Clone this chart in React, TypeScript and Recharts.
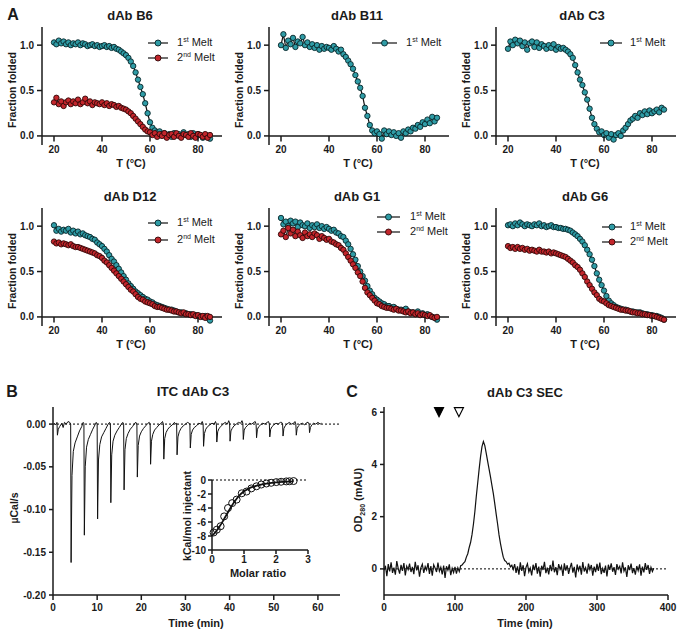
import React from 'react';
import { ComposedChart, Line, Scatter, XAxis, YAxis, ReferenceLine } from 'recharts';

const FONT = '"Liberation Sans", Arial, Helvetica, sans-serif';
const INK = '#1a1a1a';
const TEAL = '#2f9ca6';
const TEAL_EDGE = '#082528';
const RED = '#c3262c';
const RED_EDGE = '#300808';

// ---------- Panel A: thermal melts (fraction folded vs T) ----------
const temps = [
  20, 21, 22, 23, 24, 25, 26, 27, 28, 29,
  30, 31, 32, 33, 34, 35, 36, 37, 38, 39,
  40, 41, 42, 43, 44, 45, 46, 47, 48, 49,
  50, 51, 52, 53, 54, 55, 56, 57, 58, 59,
  60, 61, 62, 63, 64, 65, 66, 67, 68, 69,
  70, 71, 72, 73, 74, 75, 76, 77, 78, 79,
  80, 81, 82, 83, 84, 85,
];

const b6First = [
  1.03, 1.01, 1.05, 1.02, 1.04, 1.01, 1.03, 1.0, 1.02, 1.01,
  1.03, 1.0, 1.02, 1.01, 0.99, 1.0, 1.01, 0.99, 1.0, 0.98,
  0.99, 1.0, 0.98, 0.99, 0.97, 0.98, 0.96, 0.95, 0.93, 0.91,
  0.89, 0.86, 0.82, 0.77, 0.7, 0.62, 0.54, 0.46, 0.36, 0.25,
  0.15, 0.09, 0.06, 0.04, 0.05, 0.02, 0.03, 0.01, 0.02, -0.01,
  0.03, 0.01, 0.02, 0.0, 0.04, 0.01, 0.02, -0.01, 0.03, 0.0,
  0.02, 0.01, -0.02, 0.01, 0.0, -0.03,
];
const b6Second = [
  0.37, 0.42, 0.35, 0.38, 0.33, 0.37, 0.39, 0.35, 0.38, 0.36,
  0.4, 0.35, 0.37, 0.41, 0.36, 0.38, 0.34, 0.37, 0.36, 0.35,
  0.37, 0.34, 0.36, 0.33, 0.35, 0.34, 0.32, 0.33, 0.31, 0.3,
  0.29, 0.27, 0.25, 0.22, 0.19, 0.16, 0.13, 0.1, 0.07, 0.05,
  0.04, 0.01, 0.03, -0.01, 0.02, 0.0, 0.03, -0.02, 0.01, 0.02,
  -0.01, 0.03, 0.0, -0.02, 0.02, 0.01, -0.01, 0.03, 0.0, -0.02,
  0.02, 0.01, -0.01, 0.02, -0.02, 0.01,
];
const b11First = [
  1.0, 1.12, 0.97, 1.05, 1.01, 1.08, 0.98, 1.04, 1.02, 1.09,
  1.0, 1.03, 0.98, 1.01, 0.97, 1.0, 0.95, 0.99, 0.96, 0.98,
  0.97, 0.95, 0.99, 0.96, 0.93, 0.95, 0.9, 0.87, 0.83, 0.79,
  0.74, 0.67, 0.6, 0.53, 0.44, 0.31, 0.22, 0.12, 0.06, 0.03,
  0.05, 0.02, -0.03, 0.06, 0.02, 0.05, 0.01, 0.04, 0.0, 0.03,
  -0.02, 0.05, 0.03, 0.07, 0.05, 0.09, 0.08, 0.12, 0.1, 0.15,
  0.13, 0.18, 0.14, 0.21, 0.16, 0.2,
];
const c3First = [
  0.96, 1.04, 1.0, 1.06, 1.02, 1.05, 0.99, 1.03, 0.95, 1.02,
  1.04, 0.98, 1.03, 0.97, 1.01, 0.99, 0.96, 1.0, 0.97, 1.01,
  0.95, 0.98, 0.96, 0.97, 0.95, 0.93, 0.9, 0.86, 0.78, 0.7,
  0.62, 0.56, 0.48, 0.4, 0.3, 0.2, 0.13, 0.08, 0.04, 0.05,
  0.01, 0.03, -0.02, 0.02, -0.04, 0.01, 0.03, 0.0, 0.06, 0.09,
  0.13, 0.17, 0.19, 0.22, 0.2, 0.25, 0.23, 0.27, 0.24, 0.28,
  0.25, 0.27, 0.29, 0.26, 0.31, 0.29,
];
const d12First = [
  1.01, 0.95, 0.97, 0.94, 0.96, 0.95, 0.97, 0.93, 0.95, 0.92,
  0.94, 0.91, 0.92, 0.9, 0.89, 0.88, 0.86, 0.85, 0.82, 0.8,
  0.78, 0.75, 0.72, 0.68, 0.64, 0.61, 0.57, 0.53, 0.49, 0.45,
  0.41, 0.37, 0.34, 0.31, 0.28, 0.26, 0.24, 0.22, 0.2, 0.19,
  0.17, 0.16, 0.14, 0.13, 0.12, 0.11, 0.1, 0.09, 0.08, 0.08,
  0.07, 0.06, 0.05, 0.05, 0.04, 0.04, 0.03, 0.03, 0.02, 0.02,
  0.01, 0.01, 0.0, 0.01, -0.01, -0.04,
];
const d12Second = [
  0.83, 0.81, 0.82, 0.8, 0.81, 0.8, 0.79, 0.8, 0.78, 0.77,
  0.77, 0.76, 0.75, 0.74, 0.73, 0.72, 0.71, 0.7, 0.68, 0.67,
  0.65, 0.62, 0.6, 0.57, 0.54, 0.51, 0.48, 0.45, 0.42, 0.39,
  0.36, 0.33, 0.3, 0.28, 0.25, 0.22, 0.2, 0.19, 0.17, 0.16,
  0.15, 0.14, 0.12, 0.11, 0.11, 0.1, 0.09, 0.08, 0.08, 0.07,
  0.06, 0.06, 0.05, 0.04, 0.05, 0.03, 0.03, 0.02, 0.03, 0.01,
  0.02, 0.0, 0.01, -0.01, 0.01, 0.0,
];
const g1First = [
  1.09, 1.02, 1.05, 1.0, 1.06, 1.03, 1.05, 0.99, 1.04, 1.01,
  1.0, 1.03, 0.98, 1.01, 0.99, 1.02, 0.98, 1.0, 0.97, 0.99,
  0.97, 0.95, 0.96, 0.93, 0.92, 0.89, 0.88, 0.84, 0.8, 0.75,
  0.69, 0.63, 0.56, 0.5, 0.45, 0.4, 0.34, 0.29, 0.25, 0.21,
  0.19, 0.17, 0.15, 0.14, 0.12, 0.12, 0.1, 0.11, 0.09, 0.08,
  0.08, 0.07, 0.09, 0.06, 0.05, 0.05, 0.04, 0.06, 0.03, 0.04,
  0.02, 0.03, 0.01, 0.0, -0.01, -0.03,
];
const g1Second = [
  0.91, 0.95, 0.88, 0.98, 0.92, 0.96, 0.89, 0.94, 0.9, 0.87,
  0.93, 0.89, 0.91, 0.88, 0.92, 0.9, 0.86, 0.89, 0.87, 0.85,
  0.86, 0.83, 0.82, 0.8, 0.79, 0.76, 0.74, 0.7, 0.66, 0.62,
  0.58, 0.54, 0.49, 0.45, 0.39, 0.32, 0.27, 0.24, 0.21, 0.18,
  0.15, 0.14, 0.12, 0.11, 0.1, 0.1, 0.09, 0.08, 0.09, 0.07,
  0.07, 0.06, 0.05, 0.06, 0.04, 0.05, 0.03, 0.04, 0.02, 0.03,
  0.02, 0.01, 0.02, 0.0, -0.01, 0.0,
];
const g6First = [
  1.01, 1.02, 1.0, 1.03, 1.01, 1.04, 1.02, 1.0, 1.02, 1.01,
  1.0, 1.02, 1.01, 1.03, 1.0, 1.01, 0.99, 1.0, 1.01, 0.99,
  0.99, 0.98, 0.98, 0.97, 0.97, 0.96, 0.95, 0.93, 0.91, 0.89,
  0.86, 0.83, 0.79, 0.74, 0.69, 0.63, 0.56, 0.48, 0.41, 0.35,
  0.29, 0.23, 0.18, 0.15, 0.13, 0.11, 0.1, 0.09, 0.08, 0.08,
  0.07, 0.06, 0.06, 0.05, 0.05, 0.05, 0.04, 0.03, 0.03, 0.02,
  0.02, 0.01, 0.01, 0.0, -0.01, -0.03,
];
const g6Second = [
  0.78, 0.76, 0.77, 0.75, 0.77, 0.75, 0.76, 0.74, 0.75, 0.73,
  0.74, 0.73, 0.72, 0.74, 0.72, 0.72, 0.71, 0.72, 0.7, 0.71,
  0.7, 0.69, 0.68, 0.67, 0.66, 0.64, 0.62, 0.6, 0.57, 0.55,
  0.52, 0.48, 0.44, 0.39, 0.35, 0.31, 0.27, 0.24, 0.2, 0.18,
  0.17, 0.15, 0.13, 0.12, 0.11, 0.1, 0.09, 0.08, 0.08, 0.07,
  0.07, 0.06, 0.05, 0.05, 0.04, 0.04, 0.03, 0.03, 0.02, 0.02,
  0.01, 0.01, 0.0, -0.01, -0.02, -0.03,
];
const meltTicksX = [20, 40, 60, 80];
const meltTicksY = [0, 0.5, 1];

// ---------- Panel B: ITC thermogram [time (min), µcal/s] ----------
const itcTrace: [number, number][] = [
  [0.3, 0.001], [0.6, -0.001], [0.9, 0.002], [1.0, -0.013], [1.2, -0.006], [1.5, -0.003], [2.0, 0.001], [2.3, -0.004], [2.6, 0.002], [3.0, 0.0], [3.4, 0.003], [3.8, 0.002],
  [4.0, 0.0], [4.1, -0.162], [4.3, -0.06], [4.6, -0.032], [5.0, -0.022], [5.5, -0.015], [6.0, -0.008], [6.5, -0.003], [6.8, 0.002],
  [7.0, 0.001], [7.1, -0.13], [7.3, -0.05], [7.6, -0.027], [8.0, -0.018], [8.5, -0.012], [9.0, -0.006], [9.5, -0.001], [9.8, 0.002],
  [10.0, 0.0], [10.1, -0.111], [10.3, -0.042], [10.6, -0.024], [11.0, -0.015], [11.5, -0.01], [12.0, -0.005], [12.5, 0.0], [12.8, 0.002],
  [13.0, 0.0], [13.1, -0.092], [13.3, -0.036], [13.6, -0.02], [14.0, -0.013], [14.5, -0.008], [15.0, -0.004], [15.5, 0.0], [15.8, 0.002],
  [16.0, 0.0], [16.1, -0.077], [16.3, -0.03], [16.6, -0.017], [17.0, -0.011], [17.5, -0.006], [18.0, -0.003], [18.5, 0.001], [18.8, 0.002],
  [19.0, -0.001], [19.1, -0.062], [19.3, -0.025], [19.6, -0.014], [20.0, -0.009], [20.5, -0.005], [21.0, -0.002], [21.5, 0.001], [21.8, 0.002],
  [22.0, 0.0], [22.1, -0.047], [22.3, -0.02], [22.6, -0.012], [23.0, -0.007], [23.5, -0.004], [24.0, -0.001], [24.5, 0.001], [24.8, 0.003],
  [25.0, 0.0], [25.1, -0.041], [25.3, -0.017], [25.6, -0.01], [26.0, -0.006], [26.5, -0.003], [27.0, -0.001], [27.5, 0.002], [27.8, 0.0],
  [28.0, 0.001], [28.1, -0.036], [28.3, -0.015], [28.6, -0.009], [29.0, -0.005], [29.5, -0.002], [30.0, 0.0], [30.5, 0.002], [30.8, 0.001],
  [31.0, 0.0], [31.1, -0.028], [31.3, -0.012], [31.6, -0.007], [32.0, -0.004], [32.5, -0.002], [33.0, 0.001], [33.5, 0.0], [33.8, 0.003],
  [34.0, 0.0], [34.1, -0.026], [34.3, -0.011], [34.6, -0.006], [35.0, -0.003], [35.5, -0.001], [36.0, 0.001], [36.5, 0.0], [36.8, 0.003],
  [37.0, 0.0], [37.1, -0.021], [37.3, -0.009], [37.6, -0.005], [38.0, -0.003], [38.5, 0.0], [39.0, 0.002], [39.5, 0.0], [39.8, 0.004],
  [40.0, 0.001], [40.1, -0.02], [40.3, -0.008], [40.6, -0.005], [41.0, -0.002], [41.5, 0.0], [42.0, 0.002], [42.5, 0.001], [42.8, 0.004],
  [43.0, 0.001], [43.1, -0.018], [43.3, -0.007], [43.6, -0.004], [44.0, -0.002], [44.5, 0.001], [45.0, 0.0], [45.5, 0.002], [45.8, 0.003],
  [46.0, 0.0], [46.1, -0.016], [46.3, -0.006], [46.6, -0.003], [47.0, -0.001], [47.5, 0.001], [48.0, 0.0], [48.5, 0.002], [48.8, 0.003],
  [49.0, 0.0], [49.1, -0.015], [49.3, -0.006], [49.6, -0.003], [50.0, -0.001], [50.5, 0.001], [51.0, 0.0], [51.5, 0.002], [51.8, 0.002],
  [52.0, 0.0], [52.1, -0.014], [52.3, -0.005], [52.6, -0.002], [53.0, 0.0], [53.5, 0.002], [54.0, 0.0], [54.5, 0.001], [54.8, 0.003],
  [55.0, 0.0], [55.1, -0.013], [55.3, -0.005], [55.6, -0.002], [56.0, 0.0], [56.5, 0.001], [57.0, -0.001], [57.5, 0.002], [57.8, 0.002],
  [58.0, 0.0], [58.1, -0.01], [58.3, -0.004], [58.6, -0.001], [59.0, 0.001], [59.5, 0.0], [60.0, 0.002], [60.5, 0.0], [60.8, 0.001],
];
const itcTicksX = [0, 10, 20, 30, 40, 50, 60];
const itcTicksY = [0, -0.05, -0.1, -0.15, -0.2];

// Inset: integrated heats
const molarRatio = [0.05, 0.15, 0.27, 0.38, 0.5, 0.63, 0.77, 0.93, 1.08, 1.23, 1.39, 1.54, 1.7, 1.85, 2.01, 2.16, 2.32, 2.42, 2.55];
const injHeat = [-7.5, -7.1, -6.6, -5.2, -4.0, -3.3, -2.8, -1.9, -1.65, -1.2, -0.9, -0.65, -0.5, -0.4, -0.3, -0.25, -0.2, -0.18, -0.15];
const fitRatio = [0, 0.1, 0.2, 0.3, 0.4, 0.5, 0.6, 0.7, 0.8, 0.9, 1.0, 1.2, 1.4, 1.6, 1.8, 2.0, 2.2, 2.4, 2.55];
const fitHeat = [-8.0, -7.5, -6.9, -6.2, -5.4, -4.6, -3.8, -3.1, -2.5, -2.0, -1.6, -1.1, -0.8, -0.58, -0.44, -0.34, -0.27, -0.22, -0.19];
const insetTicksX = [0, 1, 2, 3];
const insetTicksY = [0, -2, -4, -6, -8, -10];

// ---------- Panel C: SEC trace ----------
const secTime = [
  0, 2, 4, 6, 8, 10, 12, 14, 16, 18,
  20, 22, 24, 26, 28, 30, 32, 34, 36, 38,
  40, 42, 44, 46, 48, 50, 52, 54, 56, 58,
  60, 62, 64, 66, 68, 70, 72, 74, 76, 78,
  80, 82, 84, 86, 88, 90, 92, 94, 96, 98,
  100, 102, 104, 106, 108, 110, 112, 114, 116, 118,
  120, 122, 124, 126, 128, 130, 132, 134, 136, 138,
  140, 142, 144, 146, 148, 150, 152, 154, 156, 158,
  160, 162, 164, 166, 168, 170, 172, 174, 176, 178,
  180, 182, 184, 186, 188, 190, 192, 194, 196, 198,
  200, 202, 204, 206, 208, 210, 212, 214, 216, 218,
  220, 222, 224, 226, 228, 230, 232, 234, 236, 238,
  240, 242, 244, 246, 248, 250, 252, 254, 256, 258,
  260, 262, 264, 266, 268, 270, 272, 274, 276, 278,
  280, 282, 284, 286, 288, 290, 292, 294, 296, 298,
  300, 302, 304, 306, 308, 310, 312, 314, 316, 318,
  320, 322, 324, 326, 328, 330, 332, 334, 336, 338,
  340, 342, 344, 346, 348, 350, 352, 354, 356, 358,
  360, 362, 364, 366, 368, 370, 372, 374, 376, 378,
  380,
];
const secOD = [
  -0.05, 0.12, -0.28, 0.18, -0.1, 0.25, -0.15, 0.05, -0.22, 0.3,
  0.02, -0.18, 0.15, -0.08, 0.22, -0.25, 0.1, -0.03, 0.2, -0.12,
  0.08, -0.2, 0.27, -0.06, 0.14, -0.3, 0.05, 0.18, -0.15, 0.09,
  -0.04, 0.22, -0.19, 0.11, -0.26, 0.16, 0.03, -0.12, 0.24, -0.09,
  0.06, -0.21, 0.13, -0.35, 0.1, -0.05, 0.17, -0.24, 0.02, -0.14,
  0.08, -0.18, 0.04, -0.1, 0.12, 0.15, 0.22, 0.28, 0.45, 0.58,
  0.82, 1.02, 1.32, 1.72, 2.2, 2.78, 3.3, 3.82, 4.3, 4.68,
  4.88, 4.72, 4.42, 4.12, 3.82, 3.52, 3.2, 2.88, 2.5, 2.1,
  1.72, 1.3, 0.98, 0.7, 0.45, 0.32, 0.28, 0.18, 0.22, 0.08,
  0.14, -0.02, 0.18, -0.15, 0.1, -0.22, 0.25, -0.08, 0.14, -0.28,
  0.06, 0.2, -0.12, 0.03, -0.25, 0.16, -0.05, 0.22, -0.18, 0.09,
  -0.3, 0.12, -0.04, 0.27, -0.16, 0.05, -0.21, 0.15, -0.09, 0.32,
  -0.13, 0.07, -0.24, 0.18, -0.02, 0.11, -0.27, 0.21, -0.07, 0.14,
  -0.19, 0.04, 0.23, -0.14, 0.08, -0.33, 0.17, -0.06, 0.12, -0.22,
  0.26, -0.1, 0.05, -0.18, 0.2, -0.03, 0.15, -0.26, 0.09, -0.12,
  0.19, -0.08, 0.24, -0.2, 0.02, -0.15, 0.13, -0.29, 0.16, -0.04,
  0.21, -0.11, 0.07, -0.23, 0.18, -0.01, 0.1, -0.17, 0.25, -0.09,
  0.06, -0.31, 0.14, -0.05, 0.2, -0.16, 0.03, -0.22, 0.11, -0.07,
  0.17, -0.26, 0.09, -0.13, 0.22, -0.04, 0.15, -0.19, 0.06, -0.1,
  0.02,
];
const secMarkerFilled = [{ t: 77.5, v: 6 }];
const secMarkerOpen = [{ t: 105.5, v: 6 }];
const secTicksX = [0, 100, 200, 300, 400];
const secTicksY = [0, 2, 4, 6];

// ---------- helpers ----------
const axisStyle = { stroke: INK, strokeWidth: 1.5 };
const tickFont = { fontSize: 10, fontWeight: 'bold', fill: INK, fontFamily: FONT } as any;

function Txt({ x, y, children, size = 11, weight = 700, rotate = false }: any) {
  return (
    <div
      style={{
        position: 'absolute',
        left: x,
        top: y,
        transform: `translate(-50%, -50%)${rotate ? ' rotate(-90deg)' : ''}`,
        fontFamily: FONT,
        fontSize: size,
        fontWeight: weight,
        color: INK,
        whiteSpace: 'nowrap',
        lineHeight: 1,
      }}
    >
      {children}
    </div>
  );
}

function LegendItem({ x, y, w, gap, fill, edge, ord }: any) {
  return (
    <div
      style={{
        position: 'absolute',
        left: x,
        top: y - 7,
        height: 14,
        display: 'flex',
        alignItems: 'center',
        fontFamily: FONT,
        fontSize: 11,
        color: INK,
        whiteSpace: 'nowrap',
        lineHeight: '14px',
      }}
    >
      <svg width={w} height={10} style={{ display: 'block' }}>
        <line x1={0} y1={5} x2={w} y2={5} stroke="#111" strokeWidth={1.2} />
        <circle cx={w / 2} cy={5} r={3} fill={fill} stroke={edge} strokeWidth={0.9} />
      </svg>
      <span style={{ marginLeft: gap }}>
        {ord[0]}
        <span style={{ fontSize: 7, position: 'relative', top: -4 }}>{ord.slice(1)}</span> Melt
      </span>
    </div>
  );
}

const MeltXTick = (props: any) => {
  const { x, y, payload } = props;
  return (
    <g>
      <line x1={x} x2={x} y1={y - 9} y2={y - 3.5} stroke={INK} strokeWidth={1.5} />
      <text x={x} y={y + 7.5} textAnchor="middle" fontSize={10} fontWeight="bold" fill={INK} fontFamily={FONT}>
        {payload.value}
      </text>
    </g>
  );
};

function MeltChart({ left, top, first, second }: any) {
  const d1 = temps.map((t, i) => ({ t, y: first[i] }));
  const d2 = second ? temps.map((t, i) => ({ t, y: second[i] })) : null;
  return (
    <div style={{ position: 'absolute', left, top }}>
      <ComposedChart width={230} height={165} margin={{ top: 27, right: 8, bottom: 0, left: 0 }}>
        <XAxis
          type="number"
          dataKey="t"
          domain={[15, 90]}
          ticks={meltTicksX}
          interval={0}
          height={20}
          axisLine={false}
          tickLine={false}
          tickSize={0}
          tickMargin={0}
          tick={(p: any) => <MeltXTick {...p} />}
        />
        <YAxis
          type="number"
          dataKey="y"
          domain={[-0.1, 1.2]}
          ticks={meltTicksY}
          interval={0}
          width={42}
          tickFormatter={(v: number) => v.toFixed(1)}
          axisLine={axisStyle}
          tickLine={axisStyle}
          tickSize={5}
          tickMargin={3}
          tick={tickFont}
        />
        <ReferenceLine y={0} stroke={INK} strokeWidth={1.5} />
        <Line
          data={d1}
          dataKey="y"
          stroke="#111"
          strokeWidth={1.2}
          dot={{ r: 2.7, fill: TEAL, stroke: TEAL_EDGE, strokeWidth: 0.9 }}
          activeDot={false}
          isAnimationActive={false}
        />
        {d2 && (
          <Line
            data={d2}
            dataKey="y"
            stroke="#111"
            strokeWidth={1.2}
            dot={{ r: 2.7, fill: RED, stroke: RED_EDGE, strokeWidth: 0.9 }}
            activeDot={false}
            isAnimationActive={false}
          />
        )}
      </ComposedChart>
    </div>
  );
}

const TriShape = (filled: boolean) => (p: any) => {
  const { cx, cy } = p;
  return (
    <path
      d={`M${cx - 4.5},${cy - 4.5} L${cx + 4.5},${cy - 4.5} L${cx},${cy + 4.5} Z`}
      fill={filled ? '#000' : '#fff'}
      stroke="#000"
      strokeWidth={1.2}
    />
  );
};

export default function App() {
  const itcData = itcTrace.map(([t, v]) => ({ t, v }));
  const insetPts = molarRatio.map((x, i) => ({ x, y: injHeat[i] }));
  const insetFit = fitRatio.map((x, i) => ({ x, y: fitHeat[i] }));
  const secData = secTime.map((t, i) => ({ t, v: secOD[i] }));

  const meltPanels = [
    { left: 0, top: 0, first: b6First, second: b6Second, title: 'dAb B6', tx: 130 },
    { left: 227, top: 0, first: b11First, second: null, title: 'dAb B11', tx: 357 },
    { left: 454, top: 0, first: c3First, second: null, title: 'dAb C3', tx: 582 },
    { left: 0, top: 181, first: d12First, second: d12Second, title: 'dAb D12', tx: 130 },
    { left: 227, top: 181, first: g1First, second: g1Second, title: 'dAb G1', tx: 357 },
    { left: 454, top: 181, first: g6First, second: g6Second, title: 'dAb G6', tx: 585 },
  ];

  const legends = [
    { x: 148, y: 43, w: 20, gap: 9, s: 'first' },
    { x: 148, y: 58, w: 20, gap: 9, s: 'second' },
    { x: 372, y: 43, w: 25, gap: 9, s: 'first' },
    { x: 600, y: 43, w: 22, gap: 8, s: 'first' },
    { x: 148, y: 223, w: 20, gap: 9, s: 'first' },
    { x: 148, y: 240, w: 20, gap: 9, s: 'second' },
    { x: 377, y: 217, w: 23, gap: 10, s: 'first' },
    { x: 377, y: 232, w: 23, gap: 10, s: 'second' },
    { x: 602, y: 227, w: 20, gap: 8, s: 'first' },
    { x: 602, y: 242, w: 20, gap: 8, s: 'second' },
  ];

  return (
    <div style={{ position: 'absolute', left: 0, top: 0, width: 683, height: 635, background: '#fff', overflow: 'hidden' }}>
      {meltPanels.map((p, i) => (
        <React.Fragment key={i}>
          <MeltChart left={p.left} top={p.top} first={p.first} second={p.second} />
          <Txt x={p.tx} y={p.top + 15} size={13}>{p.title}</Txt>
          <Txt x={p.left + 12} y={p.top + 90} size={10.5} rotate>Fraction folded</Txt>
          <Txt x={p.left + 131} y={p.top + 163} size={11}>T (°C)</Txt>
        </React.Fragment>
      ))}
      {legends.map((l, i) => (
        <LegendItem
          key={i}
          x={l.x}
          y={l.y}
          w={l.w}
          gap={l.gap}
          fill={l.s === 'first' ? TEAL : RED}
          edge={l.s === 'first' ? TEAL_EDGE : RED_EDGE}
          ord={l.s === 'first' ? '1st' : '2nd'}
        />
      ))}
      <Txt x={13} y={15} size={16}>A</Txt>

      {/* Panel B: ITC */}
      <div style={{ position: 'absolute', left: 0, top: 380 }}>
        <ComposedChart width={345} height={240} margin={{ top: 27, right: 5, bottom: 0, left: 0 }}>
          <XAxis
            type="number"
            dataKey="t"
            domain={[0, 65]}
            ticks={itcTicksX}
            interval={0}
            height={25}
            axisLine={axisStyle}
            tickLine={axisStyle}
            tickSize={5}
            tickMargin={4}
            tick={tickFont}
          />
          <YAxis
            type="number"
            dataKey="v"
            domain={[-0.2, 0.02]}
            ticks={itcTicksY}
            interval={0}
            width={53}
            tickFormatter={(v: number) => v.toFixed(2)}
            axisLine={axisStyle}
            tickLine={axisStyle}
            tickSize={4}
            tickMargin={3}
            tick={tickFont}
          />
          <ReferenceLine y={0} stroke="#000" strokeWidth={1} strokeDasharray="2 2" />
          <Line data={itcData} dataKey="v" stroke="#111" strokeWidth={1} dot={false} activeDot={false} isAnimationActive={false} />
        </ComposedChart>
      </div>
      <div style={{ position: 'absolute', left: 160, top: 470 }}>
        <ComposedChart width={158} height={100} margin={{ top: 10, right: 10, bottom: 0, left: 0 }}>
          <XAxis
            type="number"
            dataKey="x"
            domain={[0, 3]}
            ticks={insetTicksX}
            interval={0}
            height={20}
            axisLine={axisStyle}
            tickLine={axisStyle}
            tickSize={4}
            tickMargin={2}
            tick={tickFont}
          />
          <YAxis
            type="number"
            dataKey="y"
            domain={[-10, 0]}
            ticks={insetTicksY}
            interval={0}
            width={52}
            axisLine={axisStyle}
            tickLine={axisStyle}
            tickSize={4}
            tickMargin={2}
            tick={tickFont}
          />
          <ReferenceLine y={0} stroke="#000" strokeWidth={1} strokeDasharray="2 2" />
          <Line data={insetFit} dataKey="y" stroke="#111" strokeWidth={1.8} dot={false} activeDot={false} isAnimationActive={false} />
          <Scatter
            data={insetPts}
            dataKey="y"
            isAnimationActive={false}
            shape={(p: any) => <circle cx={p.cx} cy={p.cy} r={3.5} fill="none" stroke="#111" strokeWidth={1} />}
          />
        </ComposedChart>
      </div>
      <Txt x={12} y={392} size={16}>B</Txt>
      <Txt x={193} y={392} size={13.5}>ITC dAb C3</Txt>
      <Txt x={14} y={508} size={10.5} rotate>µCal/s</Txt>
      <Txt x={196} y={623} size={11}>Time (min)</Txt>
      <Txt x={187} y={516} size={10.5} rotate>kCal/mol injectant</Txt>
      <Txt x={258} y={573} size={11}>Molar ratio</Txt>

      {/* Panel C: SEC */}
      <div style={{ position: 'absolute', left: 340, top: 380 }}>
        <ComposedChart width={338} height={240} margin={{ top: 27, right: 10, bottom: 0, left: 0 }}>
          <XAxis
            type="number"
            dataKey="t"
            domain={[0, 400]}
            ticks={secTicksX}
            interval={0}
            height={25}
            axisLine={axisStyle}
            tickLine={axisStyle}
            tickSize={5}
            tickMargin={4}
            tick={tickFont}
          />
          <YAxis
            type="number"
            dataKey="v"
            domain={[-1, 6.2]}
            ticks={secTicksY}
            interval={0}
            width={44}
            axisLine={axisStyle}
            tickLine={axisStyle}
            tickSize={4}
            tickMargin={3}
            tick={tickFont}
          />
          <ReferenceLine y={0} stroke="#000" strokeWidth={1} strokeDasharray="2 2" />
          <Line data={secData} dataKey="v" stroke="#111" strokeWidth={1.2} dot={false} activeDot={false} isAnimationActive={false} />
          <Scatter data={secMarkerFilled} dataKey="v" isAnimationActive={false} shape={TriShape(true)} />
          <Scatter data={secMarkerOpen} dataKey="v" isAnimationActive={false} shape={TriShape(false)} />
        </ComposedChart>
      </div>
      <Txt x={352} y={392} size={16}>C</Txt>
      <Txt x={525} y={392} size={13}>dAb C3 SEC</Txt>
      <Txt x={358} y={500} size={11} rotate>
        OD<span style={{ fontSize: 7, position: 'relative', top: 3 }}>280</span> (mAU)
      </Txt>
      <Txt x={525} y={623} size={11}>Time (min)</Txt>
    </div>
  );
}
